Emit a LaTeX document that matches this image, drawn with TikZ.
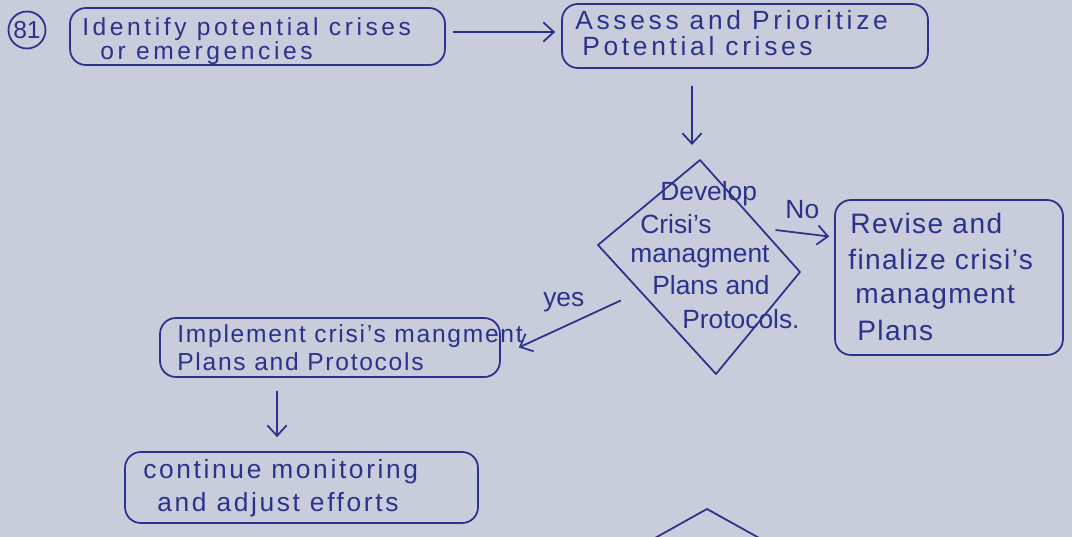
\documentclass[tikz,border=0pt]{standalone}
\usepackage{fontspec}
\setmainfont{Liberation Sans}
\usetikzlibrary{arrows.meta,calc,shapes.geometric}
\definecolor{paper}{RGB}{201,204,218}
\definecolor{ink}{RGB}{44,50,140}
\newcommand{\trk}[1]{\addfontfeature{LetterSpace=#1}}
\tikzset{
  ink/.style={draw=ink, line width=1pt},
  box/.style={ink, rectangle, rounded corners=9pt, inner sep=0pt},
  txt/.style={text=ink, anchor=base west, inner sep=0pt},
  ta/.style={txt, font=\fontsize{14}{14}\selectfont\trk{14.5}},
  tb/.style={txt, font=\fontsize{15}{15}\selectfont\trk{14}},
  tc/.style={txt, font=\fontsize{16}{16}\selectfont\trk{5}},
  td/.style={txt, font=\fontsize{14}{14}\selectfont\trk{7}},
  te/.style={txt, font=\fontsize{15}{15}\selectfont\trk{10}},
  tf/.style={txt, font=\fontsize{15}{15}\selectfont},
  arr/.style={ink, -{Straight Barb[length=6pt,width=11pt]}},
  lbl/.style={text=ink, font=\fontsize{15}{15}\selectfont, inner sep=0pt},
}
\begin{document}
\begin{tikzpicture}[x=0.02cm,y=-0.02cm]
\fill[paper] (0,0) rectangle (1072,537);
\clip (0,0) rectangle (1072,537);

% number
\node[ink, circle, minimum size=0.74cm, inner sep=0pt, text=ink, font=\fontsize{14}{14}\selectfont] (n81) at (27,30) {81};

% boxes
\node[box, minimum width=7.5cm,  minimum height=1.14cm] (b1) at (257.5,36.5) {};
\node[box, minimum width=7.32cm, minimum height=1.28cm] (b2) at (745,36) {};
\node[box, minimum width=4.56cm, minimum height=3.1cm]  (b3) at (949,277.5) {};
\node[box, minimum width=6.8cm,  minimum height=1.18cm] (b4) at (330,347.5) {};
\node[box, minimum width=7.06cm, minimum height=1.42cm] (b5) at (301.5,487.5) {};

% box texts
\node[ta] (b1l1) at (82,36)  {Identify potential crises};
\node[ta] (b1l2) at (100,60) {or emergencies};
\node[tb] (b2l1) at (575,30) {Assess and Prioritize};
\node[tb] (b2l2) at (582,56) {Potential crises};
\node[tc] (b3l1) at (850,233) {Revise and};
\node[tc] (b3l2) at (848,269) {finalize crisi's};
\node[tc] (b3l3) at (855,303) {managment};
\node[tc] (b3l4) at (857,340) {Plans};
\node[td] (b4l1) at (177,342) {Implement crisi's mangment};
\node[td] (b4l2) at (177,370) {Plans and Protocols};
\node[te] (b5l1) at (143,478) {continue monitoring};
\node[te] (b5l2) at (157,511) {and adjust efforts};

% decision diamond
\coordinate (dt) at (700,160);
\coordinate (dr) at (800,272);
\coordinate (db) at (716,374);
\coordinate (dl) at (598,245);
\draw[ink, line join=round] (dt) -- (dr) -- (db) -- (dl) -- cycle;
\node[tf] (d1) at (660,200) {Develop};
\node[tf] (d2) at (640,233) {Crisi's};
\node[tf] (d3) at (630,262) {managment};
\node[tf] (d4) at (652,294) {Plans and};
\node[tf] (d5) at (682,328) {Protocols.};

% partial diamond at bottom
\coordinate (pt) at (707,509);
\draw[ink] ($(pt)+(-95,53)$) -- (pt) -- ($(pt)+(90,50)$);

% connectors
\draw[arr] ([xshift=0.14cm,yshift=0.09cm]b1.east) -- ([xshift=-0.12cm,yshift=0.09cm]b1.east -| b2.west);
\draw[arr] ([xshift=-1.06cm,yshift=-0.34cm]b2.south) -- ([xshift=-0.16cm,yshift=0.3cm]dt);
\coordinate (noS) at ($(dt)!0.625!(dr)+(13,0)$);
\draw[arr] (noS) -- ([xshift=-0.1cm,yshift=0.82cm]b3.west) node[lbl, midway, above=0.28cm] (nolbl) {No};
\coordinate (yesS) at ($(dl)!0.43!(db)+(-28,0)$);
\coordinate (yesE) at ([xshift=0.36cm]b4.east);
\draw[arr] (yesS) -- (yesE) node[lbl, pos=0.5, above=0.22cm, xshift=-0.12cm] (yeslbl) {yes};
\draw[arr] ([xshift=-1.06cm,yshift=-0.26cm]b4.south) -- ([xshift=-0.49cm,yshift=0.28cm]b5.north);
\end{tikzpicture}
\end{document}
